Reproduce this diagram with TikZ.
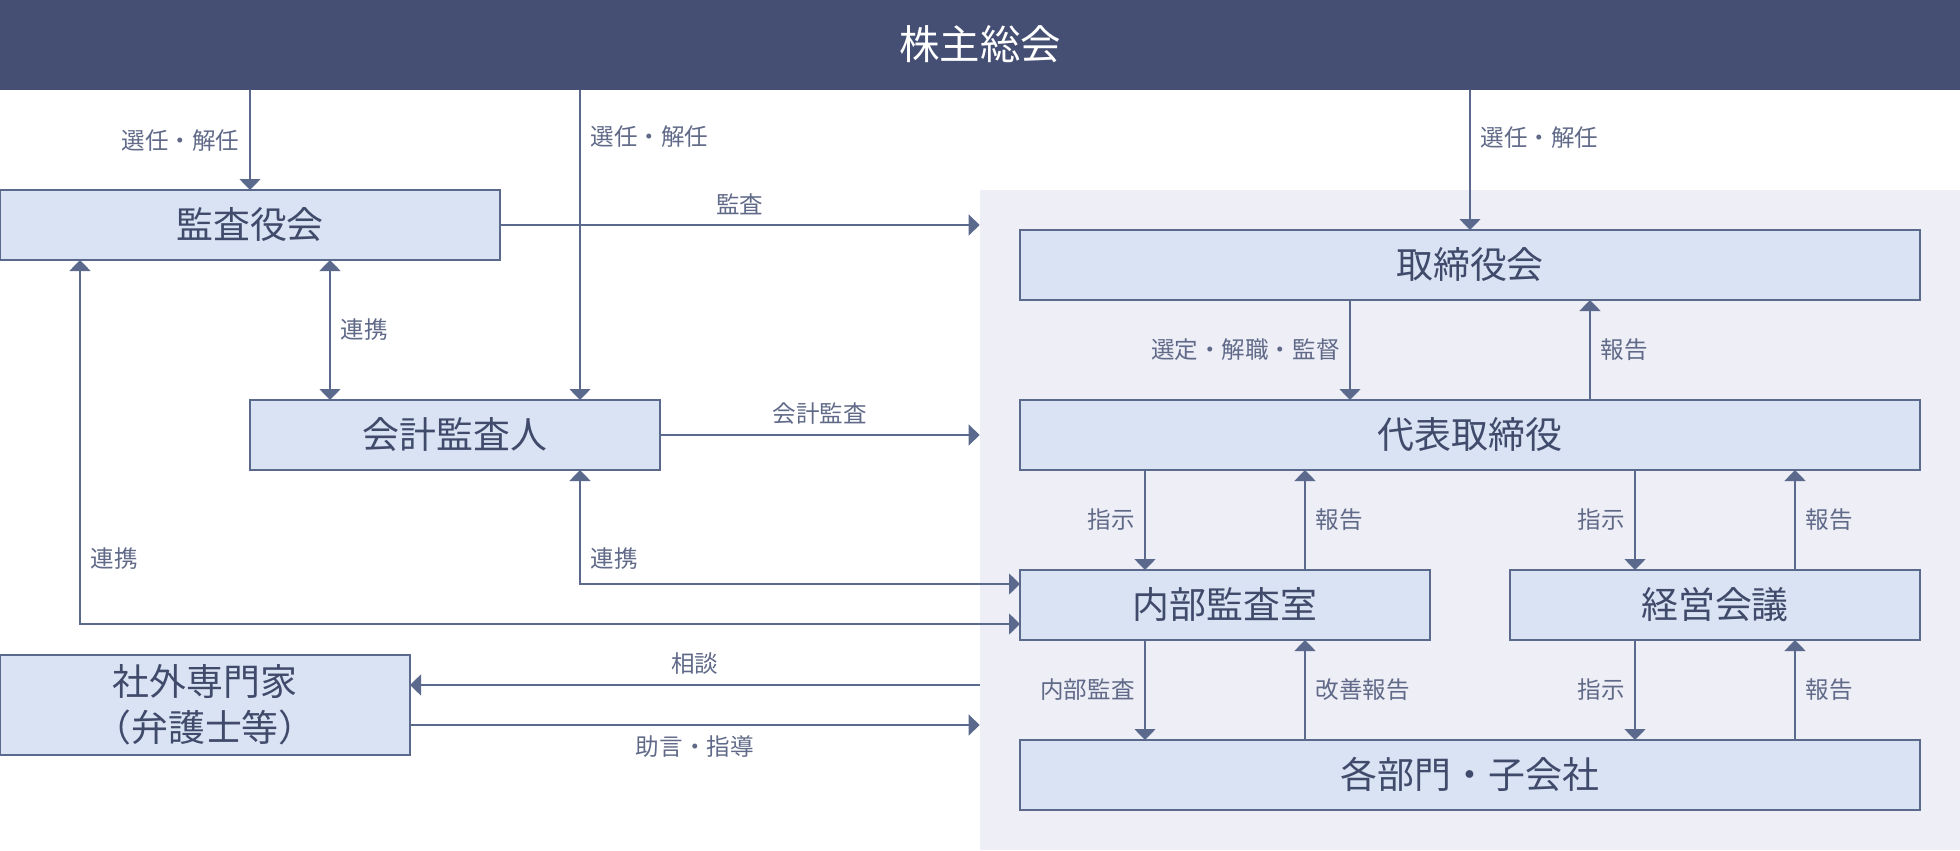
\documentclass[tikz,border=0pt]{standalone}
\usepackage{fontspec}
\setmainfont{Noto Sans CJK JP}
\usepackage{tikz}
\usetikzlibrary{arrows.meta,positioning,calc}
\definecolor{bannerblue}{RGB}{69,79,115}
\definecolor{boxfill}{RGB}{218,227,243}
\definecolor{edgeblue}{RGB}{91,106,140}
\definecolor{textblue}{RGB}{64,74,107}
\definecolor{labelgray}{RGB}{96,106,136}
\definecolor{panelgray}{RGB}{237,238,246}
\newcommand{\boxlift}[1]{\raisebox{2.2pt}{#1}}

\begin{document}
\begin{tikzpicture}[
    node distance=2cm and 1.6cm,
    banner/.style={rectangle, fill=bannerblue, text=white, minimum width=39.2cm,
        minimum height=1.8cm, inner sep=0pt, font=\fontsize{23}{27}\selectfont},
    area/.style={rectangle, fill=panelgray, minimum width=19.6cm, minimum height=13.2cm, inner sep=0pt},
    organ/.style={rectangle, draw=edgeblue, line width=1.2pt, fill=boxfill, text=textblue,
        minimum height=1.4cm, inner sep=0pt, outer sep=0pt, align=center, font=\fontsize{21}{26}\selectfont},
    wide/.style={organ, minimum width=18cm},
    half/.style={organ, minimum width=8.2cm},
    arr/.style={-{Triangle[length=2.2mm,width=4.2mm]}, line width=0.9pt, draw=edgeblue},
    biarr/.style={{Triangle[length=2.2mm,width=4.2mm]}-{Triangle[length=2.2mm,width=4.2mm]},
        line width=0.9pt, draw=edgeblue},
    lbl/.style={text=labelgray, font=\fontsize{13.4}{16}\selectfont, inner sep=5.5pt}
]
\useasboundingbox (0,0) rectangle (39.2,-17);
\node[banner] (soukai) at (19.6,-0.9) {\raisebox{2.6pt}{株主総会}};
\node[area] (company) at (29.4,-10.4) {};

\node[wide] (board) at (29.4,-5.3) {\boxlift{取締役会}};
\node[wide, below=of board] (ceo) {\boxlift{代表取締役}};
\node[half, below right=2cm and 0cm of ceo.south west] (audit) {\boxlift{内部監査室}};
\node[half, below left=2cm and 0cm of ceo.south east] (council) {\boxlift{経営会議}};
\node[wide, below=5.4cm of ceo] (units) {\boxlift{各部門・子会社}};

\node[organ, minimum width=10cm] (kansa) at (5,-4.5) {\boxlift{監査役会}};
\node[half] (auditor) at (9.1,-8.7) {\boxlift{会計監査人}};
\node[half, minimum height=2cm] (expert) at (4.1,-14.1) {\boxlift{社外専門家}\\\boxlift{（弁護士等）}};

\coordinate (auditorL) at ([xshift=1.6cm]auditor.north west);
\coordinate (auditorR) at ([xshift=-1.6cm]auditor.north east);
\coordinate (kansaL) at ([xshift=1.6cm]kansa.south west);
\coordinate (askE) at ([yshift=0.4cm]expert.east);
\coordinate (adviseE) at ([yshift=-0.4cm]expert.east);
\coordinate (auditDn) at ([xshift=-1.6cm]audit.center);
\coordinate (auditUp) at ([xshift=1.6cm]audit.center);
\coordinate (councilDn) at ([xshift=-1.6cm]council.center);
\coordinate (councilUp) at ([xshift=1.6cm]council.center);

\draw[arr] (soukai.south -| kansa) -- node[lbl, left]{選任・解任} (kansa.north);
\draw[arr] (soukai.south -| auditorR) -- node[lbl, right, pos=0.15]{選任・解任} (auditorR);
\draw[arr] (soukai.south -| board) -- node[lbl, right, pos=0.34]{選任・解任} (board.north);

\draw[arr] (kansa.east) -- node[lbl, above]{監査} (kansa.east -| company.west);
\draw[biarr] (auditorL) -- node[lbl, right]{連携} (auditorL |- kansa.south);
\draw[arr] (auditor.east) -- node[lbl, above]{会計監査} (auditor.east -| company.west);

% cooperation with internal audit
\draw[biarr] (auditor.south -| auditorR) |- node[lbl, right, pos=0.39]{連携} ([yshift=0.42cm]audit.west);
\draw[biarr] (kansaL) |- node[lbl, right, pos=0.41]{連携} ([yshift=-0.38cm]audit.west);

\draw[arr] (askE -| company.west) -- node[lbl, above]{相談} (askE);
\draw[arr] (adviseE) -- node[lbl, below]{助言・指導} (adviseE -| company.west);

\draw[arr] ([xshift=-2.4cm]board.south) -- node[lbl, left]{選定・解職・監督} ([xshift=-2.4cm]ceo.north);
\draw[arr] ([xshift=2.4cm]ceo.north) -- node[lbl, right]{報告} ([xshift=2.4cm]board.south);

\draw[arr] (ceo.south -| auditDn) -- node[lbl, left]{指示} (audit.north -| auditDn);
\draw[arr] (audit.north -| auditUp) -- node[lbl, right]{報告} (ceo.south -| auditUp);
\draw[arr] (ceo.south -| councilDn) -- node[lbl, left]{指示} (council.north -| councilDn);
\draw[arr] (council.north -| councilUp) -- node[lbl, right]{報告} (ceo.south -| councilUp);

\draw[arr] (audit.south -| auditDn) -- node[lbl, left]{内部監査} (units.north -| auditDn);
\draw[arr] (units.north -| auditUp) -- node[lbl, right]{改善報告} (audit.south -| auditUp);
\draw[arr] (council.south -| councilDn) -- node[lbl, left]{指示} (units.north -| councilDn);
\draw[arr] (units.north -| councilUp) -- node[lbl, right]{報告} (council.south -| councilUp);
\end{tikzpicture}
\end{document}
